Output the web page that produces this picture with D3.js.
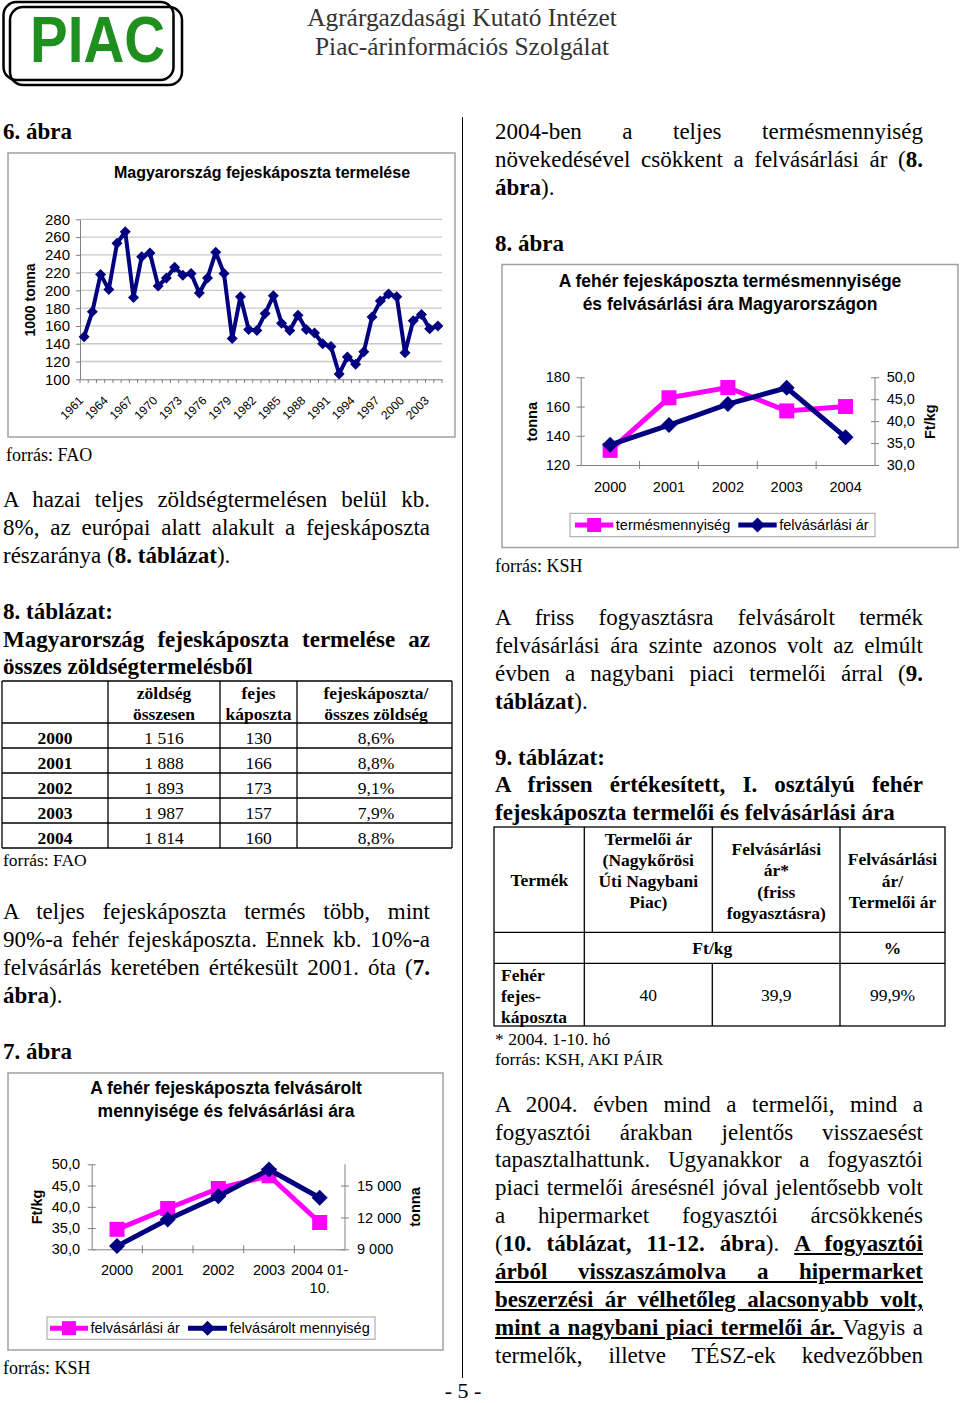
<!DOCTYPE html>
<html><head><meta charset="utf-8">
<script src="https://cdn.jsdelivr.net/npm/d3@7"></script>
<style>
body{margin:0;background:#fff;}
#page{position:relative;width:960px;height:1403px;overflow:hidden;background:#fff;}
#page svg{position:absolute;left:0;top:0;}
.ln{position:absolute;white-space:nowrap;font-family:"Liberation Serif","Times New Roman",serif;color:#000;}
.j{text-align:justify;text-align-last:justify;white-space:normal;}
</style></head><body><div id="page"></div>
<script>
// ---------------- DATA ----------------
const prodYears = ["1961","1962","1963","1964","1965","1966","1967","1968","1969","1970","1971","1972","1973","1974","1975","1976","1977","1978","1979","1980","1981","1982","1983","1984","1985","1986","1987","1988","1989","1990","1991","1992","1993","1994","1995","1996","1997","1998","1999","2000","2001","2002","2003","2004"];
const prodValues = [148,176,218,201,253,266,192,238,242,205,214,226,217,219,197,214,243,219,146,193,156,155,174,194,163,155,172,156,152,140,137,106,125,117,131,170,188,196,193,130,166,173,157,160];
const prodTickYears = ["1961","1964","1967","1970","1973","1976","1979","1982","1985","1988","1991","1994","1997","2000","2003"];
const prodYTicks = [100,120,140,160,180,200,220,240,260,280];

const fig8Years = ["2000","2001","2002","2003","2004"];
const fig8Harvest = [130,166,173,157,160];
const fig8Price = [34.6,39.1,43.9,47.6,36.3];
const fig8LeftTicks = [120,140,160,180];
const fig8RightTicks = [30,35,40,45,50];

const fig7Years = ["2000","2001","2002","2003","2004 01-10."];
const fig7Price = [34.7,39.6,44.3,47.3,36.3];
const fig7Quantity = [9300,11800,14000,16500,13850];
const fig7LeftTicks = [30,35,40,45,50];
const fig7RightTicks = [9000,12000,15000];

const tab8Years = ["2000","2001","2002","2003","2004"];
const tab8Veg = ["1 516","1 888","1 893","1 987","1 814"];
const tab8Cabbage = ["130","166","173","157","160"];
const tab8Share = ["8,6%","8,8%","9,1%","7,9%","8,8%"];

const tab9Producer = ["40"];
const tab9Purchase = ["39,9"];
const tab9Ratio = ["99,9%"];

// ---------------- SETUP ----------------
const page = d3.select("#page");
const svg = page.append("svg").attr("width",960).attr("height",1403);
const SANS = "'Liberation Sans', Arial, sans-serif";
const SERIF = "'Liberation Serif', 'Times New Roman', serif";
const NAVY = "#000080", PINK = "#ff00ff", AXIS = "#808080", BOX = "#a0a0a0";
const hu = d3.formatLocale({decimal:",", thousands:" ", grouping:[3], currency:["",""]});
const fmt1 = hu.format(".1f"), fmtInt = hu.format(",d");

function sText(g, x, y, t, o={}) {
  return g.append("text").attr("x",x).attr("y",y).text(t)
    .attr("font-family", o.family || SERIF).attr("font-size", o.size || 17.5)
    .attr("font-weight", o.bold ? "bold" : "normal")
    .attr("text-anchor", o.anchor || "start").attr("fill", o.fill || "#000");
}
function textLine(x, yc, w, html, o={}) {
  const fs = o.fs || 23, lh = 28;
  page.append("div").attr("class","ln"+(o.j?" j":""))
    .style("left",x+"px").style("top",(yc - lh/2 - 1)+"px").style("width",w+"px")
    .style("font-size",fs+"px").style("line-height",lh+"px")
    .style("font-weight",o.b?"bold":"normal").html(html);
}
function marker(type, r) {
  if (type === "square") return `M${-r},${-r}H${r}V${r}H${-r}Z`;
  return `M0,${-r}L${r},0L0,${r}L${-r},0Z`;
}

// ---------------- HEADER ----------------
svg.append("rect").attr("x",3.5).attr("y",2).attr("width",170).attr("height",78).attr("rx",13)
  .attr("fill","none").attr("stroke","#000").attr("stroke-width",2.5);
svg.append("rect").attr("x",10).attr("y",7).attr("width",172).attr("height",78).attr("rx",13)
  .attr("fill","none").attr("stroke","#000").attr("stroke-width",2.5);
sText(svg, 30, 62, "PIAC", {family:SANS, size:64, bold:true, fill:"#1f8f1f"})
  .attr("textLength",135).attr("lengthAdjust","spacingAndGlyphs");
sText(svg, 462, 26, "Agrárgazdasági Kutató Intézet", {size:25.4, anchor:"middle", fill:"#333"});
sText(svg, 462, 55, "Piac-árinformációs Szolgálat", {size:25.4, anchor:"middle", fill:"#333"});

// column divider
svg.append("line").attr("x1",462.5).attr("x2",462.5).attr("y1",117).attr("y2",1378).attr("stroke","#000").attr("stroke-width",1);

// ---------------- CHART 1 (6. ábra) ----------------
(function(){
  const g = svg.append("g");
  g.append("rect").attr("x",8).attr("y",153).attr("width",447).attr("height",284)
    .attr("fill","none").attr("stroke",BOX).attr("stroke-width",1.5);
  sText(g, 262, 178, "Magyarország fejeskáposzta termelése", {family:SANS, size:16, bold:true, anchor:"middle"});
  const x = d3.scaleBand().domain(prodYears).range([80,442]);
  const y = d3.scaleLinear().domain([100,280]).range([379.3,219.3]);
  g.append("g").selectAll("line").data(prodYTicks.slice(1)).join("line")
    .attr("x1",80).attr("x2",442).attr("y1",d=>y(d)).attr("y2",d=>y(d))
    .attr("stroke","#c8c8c8").attr("stroke-width",1.3);
  const aL = g.append("g").attr("transform","translate(80,0)")
    .call(d3.axisLeft(y).tickValues(prodYTicks).tickSizeInner(4).tickSizeOuter(0).tickPadding(6))
    .attr("font-family",SANS).attr("font-size",15);
  aL.select(".domain").attr("stroke",AXIS);
  aL.selectAll(".tick line").attr("stroke",AXIS);
  const aB = g.append("g").attr("transform","translate(0,379.3)")
    .call(d3.axisBottom(x).tickValues(prodTickYears).tickSize(0).tickSizeOuter(0))
    .attr("font-family",SANS).attr("font-size",12);
  aB.select(".domain").attr("stroke",AXIS);
  aB.selectAll(".tick text").attr("y",0).attr("dy","0.35em").attr("text-anchor","end")
    .attr("transform","translate(-3,19) rotate(-45)");
  g.append("g").selectAll("line").data(prodYears.map(d=>x(d)).concat([442])).join("line")
    .attr("x1",d=>d).attr("x2",d=>d).attr("y1",379.3).attr("y2",383).attr("stroke",AXIS);
  g.append("text").attr("transform","translate(30,300) rotate(-90)").attr("text-anchor","middle")
    .attr("dy","0.35em").attr("font-family",SANS).attr("font-weight","bold").attr("font-size",14).text("1000 tonna");
  const pts = prodValues.map((v,i)=>[x(prodYears[i])+x.bandwidth()/2, y(v)]);
  g.append("path").attr("d",d3.line()(pts)).attr("fill","none").attr("stroke",NAVY)
    .attr("stroke-width",4).attr("stroke-linejoin","round");
  g.append("g").selectAll("path").data(pts).join("path")
    .attr("transform",d=>`translate(${d[0]},${d[1]})`).attr("d",marker("diamond",5.5)).attr("fill",NAVY);
  sText(svg, 6, 461, "forrás: FAO", {size:18});
})();

// ---------------- DUAL CHART ----------------
function dualChart(c) {
  const g = svg.append("g");
  g.append("rect").attr("x",c.box[0]).attr("y",c.box[1]).attr("width",c.box[2]-c.box[0]).attr("height",c.box[3]-c.box[1])
    .attr("fill","none").attr("stroke",BOX).attr("stroke-width",1.5);
  c.title.forEach((t,i)=>sText(g, c.titleX, c.titleY[i], t, {family:SANS, size:17.5, bold:true, anchor:"middle"}));
  const x = d3.scaleBand().domain(c.cats).range([c.px0,c.px1]);
  const yL = d3.scaleLinear().domain(c.lDom).range([c.py1,c.py0]);
  const yR = d3.scaleLinear().domain(c.rDom).range([c.py1,c.py0]);
  const aL = g.append("g").attr("transform",`translate(${c.px0},0)`)
    .call(d3.axisLeft(yL).tickValues(c.lTicks).tickFormat(c.lFmt).tickSizeInner(4).tickSizeOuter(0).tickPadding(c.lPad))
    .attr("font-family",SANS).attr("font-size",14.5);
  aL.selectAll(".tick line").attr("x1",4).attr("x2",-4).attr("stroke",AXIS);
  aL.select(".domain").attr("stroke",AXIS);
  const aR = g.append("g").attr("transform",`translate(${c.px1},0)`)
    .call(d3.axisRight(yR).tickValues(c.rTicks).tickFormat(c.rFmt).tickSizeInner(4).tickSizeOuter(0).tickPadding(c.rPad))
    .attr("font-family",SANS).attr("font-size",14.5);
  aR.selectAll(".tick line").attr("x1",-4).attr("x2",4).attr("stroke",AXIS);
  aR.select(".domain").attr("stroke",AXIS).attr("d",`M0,${c.py0}V${c.py1}`);
  const aB = g.append("g").attr("transform",`translate(0,${c.py1})`)
    .call(d3.axisBottom(x).tickSize(0).tickSizeOuter(0))
    .attr("font-family",SANS).attr("font-size",14.5);
  aB.select(".domain").attr("stroke",AXIS);
  aB.selectAll(".tick text").each(function(d){
    const t = d3.select(this).attr("y", c.xLabY - c.py1).attr("dy","0.35em");
    const m = d.match(/^(.* \d+-)(.+)$/);
    if (m) {
      t.text(null);
      t.append("tspan").attr("x",0).text(m[1]);
      t.append("tspan").attr("x",0).attr("dy","1.25em").text(m[2]);
    }
  });
  g.append("g").selectAll("line").data(c.cats.slice(1).map(d=>x(d))).join("line")
    .attr("x1",d=>d).attr("x2",d=>d).attr("y1",c.py1-4).attr("y2",c.py1+4).attr("stroke",AXIS);
  g.append("text").attr("transform",`translate(${c.lTitle[1]},${c.lTitle[2]}) rotate(-90)`).attr("text-anchor","middle")
    .attr("dy","0.35em").attr("font-family",SANS).attr("font-weight","bold").attr("font-size",14.5).text(c.lTitle[0]);
  g.append("text").attr("transform",`translate(${c.rTitle[1]},${c.rTitle[2]}) rotate(-90)`).attr("text-anchor","middle")
    .attr("dy","0.35em").attr("font-family",SANS).attr("font-weight","bold").attr("font-size",14.5).text(c.rTitle[0]);
  c.series.forEach(s=>{
    const ys = s.axis === "L" ? yL : yR;
    const pts = s.values.map((v,i)=>[x(c.cats[i])+x.bandwidth()/2, ys(v)]);
    g.append("path").attr("d",d3.line()(pts)).attr("fill","none").attr("stroke",s.color).attr("stroke-width",5);
    g.append("g").selectAll("path").data(pts).join("path")
      .attr("transform",d=>`translate(${d[0]},${d[1]})`).attr("d",marker(s.marker, s.marker==="square"?7.5:8)).attr("fill",s.color);
  });
  // legend
  const L = c.legend;
  g.append("rect").attr("x",L.box[0]).attr("y",L.box[1]).attr("width",L.box[2]-L.box[0]).attr("height",L.box[3]-L.box[1])
    .attr("fill","#fff").attr("stroke",BOX).attr("stroke-width",1);
  const ly = (L.box[1]+L.box[3])/2;
  L.items.forEach((it,i)=>{
    const s = c.series[it.s];
    g.append("line").attr("x1",it.x0).attr("x2",it.x1).attr("y1",ly).attr("y2",ly).attr("stroke",s.color).attr("stroke-width",5);
    g.append("path").attr("transform",`translate(${(it.x0+it.x1)/2},${ly})`).attr("d",marker(s.marker, s.marker==="square"?7:7.5)).attr("fill",s.color);
    g.append("text").attr("x",it.x1+2.5).attr("y",ly).attr("dy","0.35em").attr("font-family",SANS).attr("font-size",14.5).text(s.name);
  });
}

// 8. ábra
dualChart({
  box:[502,264.5,958,547.5], title:["A fehér fejeskáposzta termésmennyisége","és felvásárlási ára Magyarországon"],
  titleX:730, titleY:[287,310],
  cats:fig8Years, px0:580.7, px1:875, py0:377.3, py1:465,
  lDom:[120,180], lTicks:fig8LeftTicks, lFmt:d3.format("d"), lPad:6.7,
  rDom:[30,50], rTicks:fig8RightTicks, rFmt:fmt1, rPad:7.7,
  xLabY:486.7, lTitle:["tonna",531.7,421.7], rTitle:["Ft/kg",930,421.7],
  series:[{name:"termésmennyiség", values:fig8Harvest, axis:"L", color:PINK, marker:"square"},
          {name:"felvásárlási ár", values:fig8Price, axis:"R", color:NAVY, marker:"diamond"}],
  legend:{box:[570,513.3,875,536.7], items:[{s:0,x0:575,x1:613.3},{s:1,x0:738.3,x1:776.7}]}
});
sText(svg, 495, 572, "forrás: KSH", {size:18});

// 7. ábra
dualChart({
  box:[8,1073,443,1350], title:["A fehér fejeskáposzta felvásárolt","mennyisége és felvásárlási ára"],
  titleX:226, titleY:[1094,1117],
  cats:fig7Years, px0:91.7, px1:345, py0:1164.3, py1:1249.3,
  lDom:[30,50], lTicks:fig7LeftTicks, lFmt:fmt1, lPad:7.7,
  rDom:[9000,17000], rTicks:fig7RightTicks, rFmt:fmtInt, rPad:8,
  xLabY:1270, lTitle:["Ft/kg",37,1207], rTitle:["tonna",415,1207],
  series:[{name:"felvásárlási ár", values:fig7Price, axis:"L", color:PINK, marker:"square"},
          {name:"felvásárolt mennyiség", values:fig7Quantity, axis:"R", color:NAVY, marker:"diamond"}],
  legend:{box:[47,1317,375,1339.3], items:[{s:0,x0:50,x1:88},{s:1,x0:188,x1:227}]}
});
sText(svg, 3, 1374, "forrás: KSH", {size:18});

// ---------------- TABLE 8 ----------------
(function(){
  const g = svg.append("g");
  const cols = [2,108,220,297,452], rows = [681,723,748,773,798,823,848];
  rows.forEach(r=>g.append("line").attr("x1",cols[0]).attr("x2",cols[4]).attr("y1",r).attr("y2",r).attr("stroke","#000").attr("stroke-width",1.3));
  cols.forEach(cx=>g.append("line").attr("x1",cx).attr("x2",cx).attr("y1",rows[0]).attr("y2",rows[6]).attr("stroke","#000").attr("stroke-width",1.3));
  const cc = [55,164,258.5,376];
  sText(g, cc[1], 698.5, "zöldség", {bold:true, anchor:"middle"});
  sText(g, cc[1], 719.5, "összesen", {bold:true, anchor:"middle"});
  sText(g, cc[2], 698.5, "fejes", {bold:true, anchor:"middle"});
  sText(g, cc[2], 719.5, "káposzta", {bold:true, anchor:"middle"});
  sText(g, cc[3], 698.5, "fejeskáposzta/", {bold:true, anchor:"middle"});
  sText(g, cc[3], 719.5, "összes zöldség", {bold:true, anchor:"middle"});
  tab8Years.forEach((yv,i)=>{
    const yb = 744 + i*25;
    sText(g, cc[0], yb, yv, {bold:true, anchor:"middle"});
    sText(g, cc[1], yb, tab8Veg[i], {anchor:"middle"});
    sText(g, cc[2], yb, tab8Cabbage[i], {anchor:"middle"});
    sText(g, cc[3], yb, tab8Share[i], {anchor:"middle"});
  });
  sText(g, 3, 866, "forrás: FAO", {size:17.5});
})();

// ---------------- TABLE 9 ----------------
(function(){
  const g = svg.append("g");
  const L=494, R=945, T=827, B=1026, r1=932.3, r2=963.3, c1=584.3, c2=712.3, c3=840;
  g.append("rect").attr("x",L).attr("y",T).attr("width",R-L).attr("height",B-T).attr("fill","none").attr("stroke","#000").attr("stroke-width",1.3);
  [r1,r2].forEach(r=>g.append("line").attr("x1",L).attr("x2",R).attr("y1",r).attr("y2",r).attr("stroke","#000").attr("stroke-width",1.3));
  [[c1,T,B],[c2,T,r1],[c2,r2,B],[c3,T,B]].forEach(v=>g.append("line").attr("x1",v[0]).attr("x2",v[0]).attr("y1",v[1]).attr("y2",v[2]).attr("stroke","#000").attr("stroke-width",1.3));
  const o = {bold:true, anchor:"middle"};
  sText(g, 539.3, 886, "Termék", o);
  ["Termelői ár","(Nagykőrösi","Úti Nagybani","Piac)"].forEach((t,i)=>sText(g, 648.3, 845+i*21, t, o));
  ["Felvásárlási","ár*","(friss","fogyasztásra)"].forEach((t,i)=>sText(g, 776.3, 855+i*21.4, t, o));
  ["Felvásárlási","ár/","Termelői ár"].forEach((t,i)=>sText(g, 892.5, 865.3+i*21.2, t, o));
  sText(g, c2, 954.3, "Ft/kg", o);
  sText(g, 892.5, 954.3, "%", o);
  ["Fehér","fejes-","káposzta"].forEach((t,i)=>sText(g, 501, 981+i*21, t, {bold:true}));
  sText(g, 648.3, 1001, tab9Producer[0], {anchor:"middle"});
  sText(g, 776.3, 1001, tab9Purchase[0], {anchor:"middle"});
  sText(g, 892.5, 1001, tab9Ratio[0], {anchor:"middle"});
  sText(g, 495, 1045, "* 2004. 1-10. hó", {size:17.5});
  sText(g, 495, 1065, "forrás: KSH, AKI PÁIR", {size:17.5});
})();

sText(svg, 463, 1398, "- 5 -", {size:22, anchor:"middle"});

// ---------------- BODY TEXT ----------------
const LX = 3, LW = 427, RX = 495, RW = 428;
textLine(LX, 133, 200, "<b>6. ábra</b>");
textLine(LX, 501, LW, "A hazai teljes zöldségtermelésen belül kb.", {j:true});
textLine(LX, 529, LW, "8%, az európai alatt alakult a fejeskáposzta", {j:true});
textLine(LX, 557, LW, "részaránya (<b>8. táblázat</b>).");
textLine(LX, 613, LW, "8. táblázat:", {b:true});
textLine(LX, 641, LW, "Magyarország fejeskáposzta termelése az", {j:true, b:true});
textLine(LX, 668, LW, "összes zöldségtermelésből", {b:true});
textLine(LX, 913, LW, "A teljes fejeskáposzta termés több, mint", {j:true});
textLine(LX, 941, LW, "90%-a fehér fejeskáposzta. Ennek kb. 10%-a", {j:true});
textLine(LX, 969, LW, "felvásárlás keretében értékesült 2001. óta (<b>7.</b>", {j:true});
textLine(LX, 997, LW, "<b>ábra</b>).");
textLine(LX, 1053, LW, "<b>7. ábra</b>");

textLine(RX, 133, RW, "2004-ben a teljes termésmennyiség", {j:true});
textLine(RX, 161, RW, "növekedésével csökkent a felvásárlási ár (<b>8.</b>", {j:true});
textLine(RX, 189, RW, "<b>ábra</b>).");
textLine(RX, 245, RW, "<b>8. ábra</b>");
textLine(RX, 619, RW, "A friss fogyasztásra felvásárolt termék", {j:true});
textLine(RX, 647, RW, "felvásárlási ára szinte azonos volt az elmúlt", {j:true});
textLine(RX, 675, RW, "évben a nagybani piaci termelői árral (<b>9.</b>", {j:true});
textLine(RX, 703, RW, "<b>táblázat</b>).");
textLine(RX, 759, RW, "9. táblázat:", {b:true});
textLine(RX, 786, RW, "A frissen értékesített, I. osztályú fehér", {j:true, b:true});
textLine(RX, 814, RW, "fejeskáposzta termelői és felvásárlási ára", {b:true});
textLine(RX, 1106, RW, "A 2004. évben mind a termelői, mind a", {j:true});
textLine(RX, 1134, RW, "fogyasztói árakban jelentős visszaesést", {j:true});
textLine(RX, 1161, RW, "tapasztalhattunk. Ugyanakkor a fogyasztói", {j:true});
textLine(RX, 1189, RW, "piaci termelői áresésnél jóval jelentősebb volt", {j:true});
textLine(RX, 1217, RW, "a hipermarket fogyasztói árcsökkenés", {j:true});
textLine(RX, 1245, RW, "(<b>10. táblázat, 11-12. ábra</b>). <b><u>A fogyasztói</u></b>", {j:true});
textLine(RX, 1273, RW, "<b><u>árból visszaszámolva a hipermarket</u></b>", {j:true});
textLine(RX, 1301, RW, "<b><u>beszerzési ár vélhetőleg alacsonyabb volt,</u></b>", {j:true});
textLine(RX, 1329, RW, "<b><u>mint a nagybani piaci termelői ár. </u></b>Vagyis a", {j:true});
textLine(RX, 1357, RW, "termelők, illetve TÉSZ-ek kedvezőbben", {j:true});
</script></body></html>
